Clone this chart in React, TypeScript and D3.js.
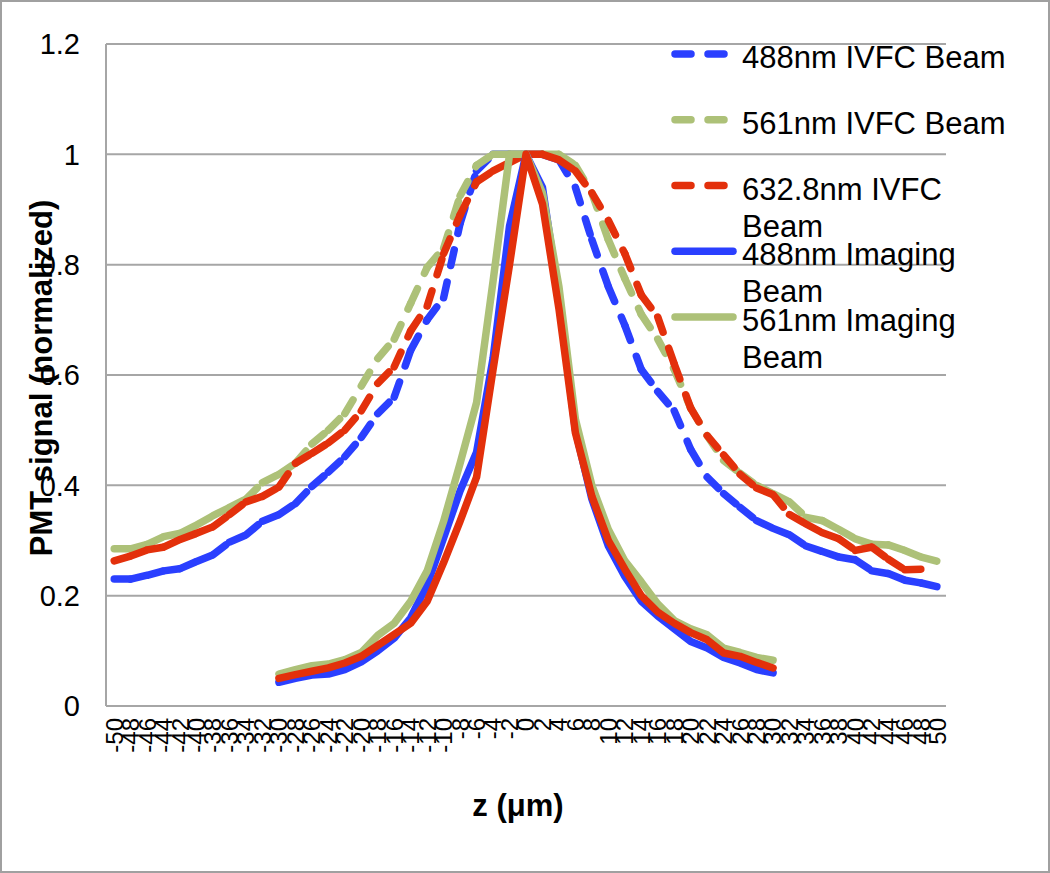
import React from 'react';
import * as d3 from 'd3';

const categories = [-50,-48,-46,-44,-42,-40,-38,-36,-34,-32,-30,-28,-26,-24,-22,-20,-18,-16,-14,-12,-10,-8,-6,-4,-2,0,2,4,6,8,10,12,14,16,18,20,22,24,26,28,30,32,34,36,38,40,42,44,46,48,50];
const yTicks = [0, 0.2, 0.4, 0.6, 0.8, 1, 1.2];

const blueIVFC = [0.23,0.23,0.237,0.245,0.249,0.262,0.274,0.297,0.31,0.335,
  0.347,0.367,0.398,0.424,0.452,0.487,0.53,0.56,0.645,0.70,
  0.74,0.875,0.97,1.0,1.0,1.0,1.0,0.99,0.94,0.845,
  0.76,0.69,0.61,0.57,0.535,0.465,0.415,0.385,0.36,0.336,
  0.322,0.31,0.29,0.28,0.27,0.265,0.245,0.24,0.228,0.223,0.216];
const greenIVFC = [0.285,0.285,0.293,0.307,0.313,0.328,0.345,0.36,0.375,0.405,
  0.42,0.44,0.475,0.50,0.53,0.58,0.63,0.665,0.73,0.795,
  0.83,0.925,0.98,1.0,1.0,1.0,1.0,1.0,0.98,0.93,
  0.845,0.775,0.71,0.665,0.61,0.54,0.49,0.445,0.422,0.40,
  0.385,0.37,0.342,0.336,0.32,0.303,0.293,0.292,0.282,0.27,0.262];
const redIVFC = [0.263,0.272,0.283,0.288,0.302,0.313,0.325,0.347,0.37,0.38,
  0.397,0.44,0.458,0.477,0.50,0.535,0.585,0.615,0.68,0.725,
  0.82,0.89,0.95,0.97,0.985,1.0,1.0,0.99,0.97,0.93,
  0.88,0.82,0.745,0.705,0.62,0.54,0.49,0.455,0.42,0.395,
  0.383,0.347,0.33,0.314,0.303,0.282,0.288,0.266,0.247,0.248,null];
const N10 = [null,null,null,null,null,null,null,null,null,null];
const blueImaging = [...N10,
  0.043,0.05,0.056,0.058,0.066,0.08,0.1,0.123,0.16,0.22,
  0.305,0.39,0.46,0.63,0.87,1.0,0.94,0.74,0.50,0.375,
  0.29,0.235,0.19,0.163,0.14,0.117,0.105,0.088,0.078,0.066,0.06, ...N10];
const greenImaging = [...N10,
  0.058,0.066,0.073,0.076,0.084,0.097,0.128,0.15,0.19,0.245,
  0.335,0.44,0.55,0.77,1.0,1.0,0.93,0.76,0.52,0.40,
  0.32,0.263,0.225,0.185,0.155,0.14,0.129,0.105,0.097,0.088,0.083, ...N10];
const redImaging = [...N10,
  0.05,0.057,0.063,0.069,0.078,0.09,0.11,0.13,0.15,0.19,
  0.26,0.335,0.415,0.61,0.80,1.0,0.91,0.72,0.495,0.38,
  0.30,0.248,0.20,0.17,0.15,0.133,0.12,0.096,0.09,0.079,0.069, ...N10];

const BLUE = '#2A3FFF';
const GREEN = '#ADC178';
const RED = '#E3300B';

const series = [
  { name: ['488nm IVFC Beam'], values: blueIVFC, color: BLUE, dashed: true, legend: true },
  { name: ['561nm IVFC Beam'], values: greenIVFC, color: GREEN, dashed: true, legend: true },
  { name: ['632.8nm IVFC', 'Beam'], values: redIVFC, color: RED, dashed: true, legend: true },
  { name: ['488nm Imaging', 'Beam'], values: blueImaging, color: BLUE, dashed: false, legend: true },
  { name: ['561nm Imaging', 'Beam'], values: greenImaging, color: GREEN, dashed: false, legend: true },
  { name: ['632.8nm Imaging', 'Beam'], values: redImaging, color: RED, dashed: false, legend: false },
];

const W = 1050, H = 873;
const left = 106, right = 946, top = 44, bottom = 706;
const FONT = '"Liberation Sans", Arial, Helvetica, sans-serif';
const SW = 7.5;
const DASH = '16 17';

export default function App() {
  const x = d3.scalePoint<number>().domain(categories).range([left, right]).padding(0.5);
  const y = d3.scaleLinear().domain([0, 1.2]).range([bottom, top]);
  const line = d3.line<[number, number]>().x(d => d[0]).y(d => d[1]);

  const renderSeries = (s: typeof series[0], i: number) => {
    const pts: ([number, number] | null)[] = s.values.map((v, k) => v == null ? null : [x(categories[k]) as number, y(v)]);
    if (!s.dashed) {
      const l = d3.line<[number, number] | null>().defined(d => d != null).x(d => d![0]).y(d => d![1]);
      return <path key={i} d={l(pts) || ''} fill="none" stroke={s.color} strokeWidth={SW} strokeLinejoin="round" strokeLinecap="round" />;
    }
    const segs: JSX.Element[] = [];
    for (let k = 0; k < pts.length - 1; k++) {
      const a = pts[k], b = pts[k + 1];
      if (!a || !b) continue;
      segs.push(<path key={k} d={line([a, b]) || ''} fill="none" stroke={s.color} strokeWidth={SW} strokeLinecap="round" strokeDasharray={DASH} />);
    }
    return <g key={i}>{segs}</g>;
  };

  const legendItems = series.filter(s => s.legend);
  const legendY0 = 54, legendStep = 65.75;

  return (
    <svg width={W} height={H} style={{ position: 'absolute', left: 0, top: 0, background: '#fff' }} fontFamily={FONT}>
      <rect x={1} y={1} width={W - 2} height={H - 2} fill="#fff" stroke="#A0A0A0" strokeWidth={2} />
      {yTicks.map(t => (
        <line key={t} x1={left} x2={right} y1={y(t)} y2={y(t)} stroke="#A6A6A6" strokeWidth={2} />
      ))}
      <line x1={left} x2={left} y1={top} y2={bottom} stroke="#A6A6A6" strokeWidth={2} />
      {yTicks.map(t => (
        <text key={t} x={80} y={y(t)} dy="0.36em" textAnchor="end" fontSize={29} fill="#000">{String(t)}</text>
      ))}
      {categories.map(c => (
        <text key={c} transform={`translate(${x(c)},718) rotate(-90)`} dy="0.35em" textAnchor="end" fontSize={24} fill="#000">{String(c)}</text>
      ))}
      {series.map(renderSeries)}
      {legendItems.map((s, i) => {
        const ly = legendY0 + i * legendStep;
        return (
          <g key={i}>
            <path d={line([[675, ly], [733, ly]]) || ''} stroke={s.color} strokeWidth={SW} strokeLinecap="round" fill="none" strokeDasharray={s.dashed ? DASH : undefined} />
            {s.name.map((t, j) => (
              <text key={j} x={742} y={ly + 14 + j * 37} fontSize={31} fill="#000">{t}</text>
            ))}
          </g>
        );
      })}
      <text x={518} y={816} textAnchor="middle" fontSize={31} fontWeight="bold" fill="#000">z (μm)</text>
      <text transform="translate(52,378) rotate(-90)" textAnchor="middle" fontSize={31} fontWeight="bold" fill="#000">PMT signal (normalized)</text>
    </svg>
  );
}
